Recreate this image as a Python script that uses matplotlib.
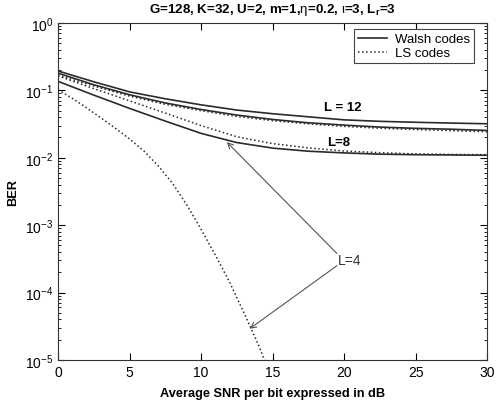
import numpy as np
import matplotlib.pyplot as plt

plt.rcParams['font.family'] = ['Liberation Sans', 'DejaVu Sans']
plt.rcParams['mathtext.fontset'] = 'custom'
plt.rcParams['mathtext.rm'] = 'Liberation Sans'
plt.rcParams['mathtext.it'] = 'Liberation Sans:italic'
plt.rcParams['mathtext.bf'] = 'Liberation Sans:bold'

# SNR grid (dB) for the slow curves
snr = [0, 2.5, 5, 7.5, 10, 12.5, 15, 17.5, 20, 22.5, 25, 27.5, 30]

# Walsh codes (solid)
walsh_L12 = [0.194, 0.134, 0.095, 0.075, 0.061, 0.051, 0.045, 0.0405, 0.0365, 0.0347, 0.0336, 0.0327, 0.0319]
walsh_L8 = [0.180, 0.121, 0.086, 0.065, 0.052, 0.043, 0.037, 0.033, 0.0305, 0.0285, 0.0273, 0.0265, 0.0254]
walsh_L4 = [0.136, 0.085, 0.054, 0.035, 0.023, 0.0168, 0.0139, 0.0125, 0.0118, 0.0113, 0.0111, 0.0110, 0.0109]

# LS codes (dotted)
ls_L12 = [0.168, 0.116, 0.082, 0.062, 0.050, 0.041, 0.0355, 0.0318, 0.0292, 0.0274, 0.0262, 0.0252, 0.0243]
ls_L8 = [0.164, 0.106, 0.070, 0.046, 0.030, 0.0205, 0.0162, 0.0140, 0.0126, 0.0119, 0.0114, 0.0112, 0.0111]

snr_L4 = [0, 1, 2, 3, 4, 5, 6, 7, 8, 9, 10, 11, 12, 13, 14, 15]
ls_L4 = [0.102, 0.076, 0.055, 0.039, 0.0275, 0.019, 0.0126, 0.0076, 0.0042, 0.0020,
         0.00087, 0.00036, 0.000142, 5.0e-5, 1.7e-5, 5.0e-6]

fig = plt.figure(figsize=(4.96, 4.06), dpi=100)
ax = fig.add_axes([0.117, 0.111, 0.865, 0.830])

lc = '#2a2a2a'
ax.semilogy(snr, walsh_L12, '-', color=lc, lw=1.2, label='Walsh codes')
ax.semilogy(snr, walsh_L8, '-', color=lc, lw=1.2)
ax.semilogy(snr, walsh_L4, '-', color=lc, lw=1.2)
ax.semilogy(snr, ls_L12, ':', color=lc, lw=1.1, label='LS codes')
ax.semilogy(snr, ls_L8, ':', color=lc, lw=1.1)
ax.semilogy(snr_L4, ls_L4, ':', color=lc, lw=1.1)

ax.set_xlim(0, 30)
ax.set_ylim(1e-5, 1)
ax.set_xticks([0, 5, 10, 15, 20, 25, 30])
ax.tick_params(which='both', direction='in', top=True, right=True, labelsize=10)
ax.tick_params(which='major', length=5)
ax.tick_params(which='minor', length=2.5)
for s in ax.spines.values():
    s.set_color('#333333')

ax.set_xlabel('Average SNR per bit expressed in dB', fontsize=9.2, fontweight='bold', labelpad=6)
ax.set_ylabel('BER', fontsize=9.2, fontweight='bold')
ax.set_title(r'G=128, K=32, U=2, m=1,$\mathrm{\eta}$=0.2, $\mathrm{\iota}$=3, L$_\mathbf{r}$=3',
             fontsize=9.6, fontweight='bold', pad=8)

ax.text(19.9, 0.057, 'L = 12', fontsize=9.5, fontweight='bold', ha='center', va='center')
ax.text(19.65, 0.0173, 'L=8', fontsize=9.5, fontweight='bold', ha='center', va='center')
ax.text(20.4, 3.0e-4, 'L=4', fontsize=10, ha='center', va='center', color='#333333')
arr = dict(arrowstyle='->', color='#555555', lw=0.8, shrinkA=0, shrinkB=0)
ax.annotate('', xy=(11.8, 0.0171), xytext=(19.5, 3.8e-4), arrowprops=arr)
ax.annotate('', xy=(13.4, 2.9e-5), xytext=(19.5, 2.5e-4), arrowprops=arr)

leg = ax.legend(loc='upper right', bbox_to_anchor=(0.970, 0.982), borderaxespad=0,
                fontsize=9.5, fancybox=False, framealpha=1, edgecolor='#444444',
                handlelength=2.2, labelspacing=0.15, borderpad=0.3, handletextpad=0.6)
leg.get_frame().set_linewidth(0.8)

fig.savefig('out.png', dpi=100)
